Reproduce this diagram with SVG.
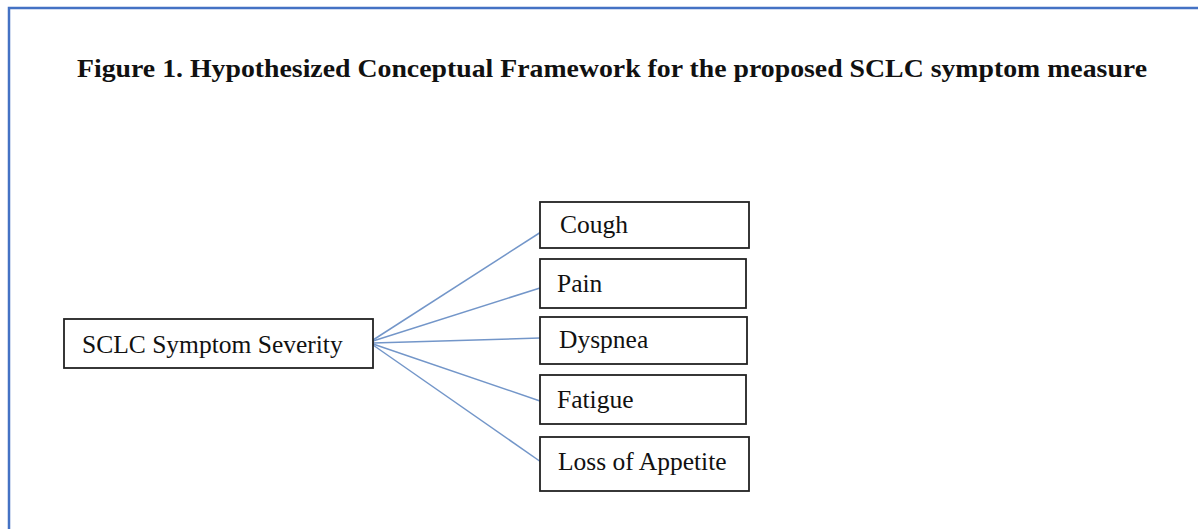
<svg xmlns="http://www.w3.org/2000/svg" width="1198" height="529" viewBox="0 0 1198 529">
<style>
.box{fill:#fff;stroke:#222;stroke-width:1.8}
.lbl{font-family:"Liberation Serif","Times New Roman",serif;font-size:25.5px;fill:#111}
.title{font-family:"Liberation Serif","Times New Roman",serif;font-size:26px;font-weight:bold;fill:#111}
.con{stroke:#7396c9;stroke-width:1.5;fill:none}
</style>
<rect width="1198" height="529" fill="#fff"/>
<path d="M9 529 V8 H1198" fill="none" stroke="#4472c4" stroke-width="2.5"/>
<text class="title" x="77" y="77" textLength="1070" lengthAdjust="spacingAndGlyphs">Figure 1. Hypothesized Conceptual Framework for the proposed SCLC symptom measure</text>
<g id="connectors">
<line class="con" x1="373" y1="340" x2="541" y2="232"/>
<line class="con" x1="373" y1="341" x2="540" y2="288"/>
<line class="con" x1="373" y1="343" x2="540" y2="338"/>
<line class="con" x1="373" y1="344" x2="540" y2="401"/>
<line class="con" x1="373" y1="345" x2="541" y2="462"/>
</g>
<g id="severity"><rect class="box" x="64" y="319" width="309" height="49"/><text class="lbl" x="82" y="353">SCLC Symptom Severity</text></g>
<g id="cough"><rect class="box" x="540" y="202" width="209" height="46"/><text class="lbl" x="560" y="233">Cough</text></g>
<g id="pain"><rect class="box" x="540" y="259" width="206" height="49"/><text class="lbl" x="557" y="292">Pain</text></g>
<g id="dyspnea"><rect class="box" x="540" y="317" width="207" height="47"/><text class="lbl" x="559" y="348">Dyspnea</text></g>
<g id="fatigue"><rect class="box" x="540" y="375" width="206" height="49"/><text class="lbl" x="557" y="408">Fatigue</text></g>
<g id="appetite"><rect class="box" x="540" y="437" width="209" height="54"/><text class="lbl" x="558" y="470">Loss of Appetite</text></g>
</svg>
